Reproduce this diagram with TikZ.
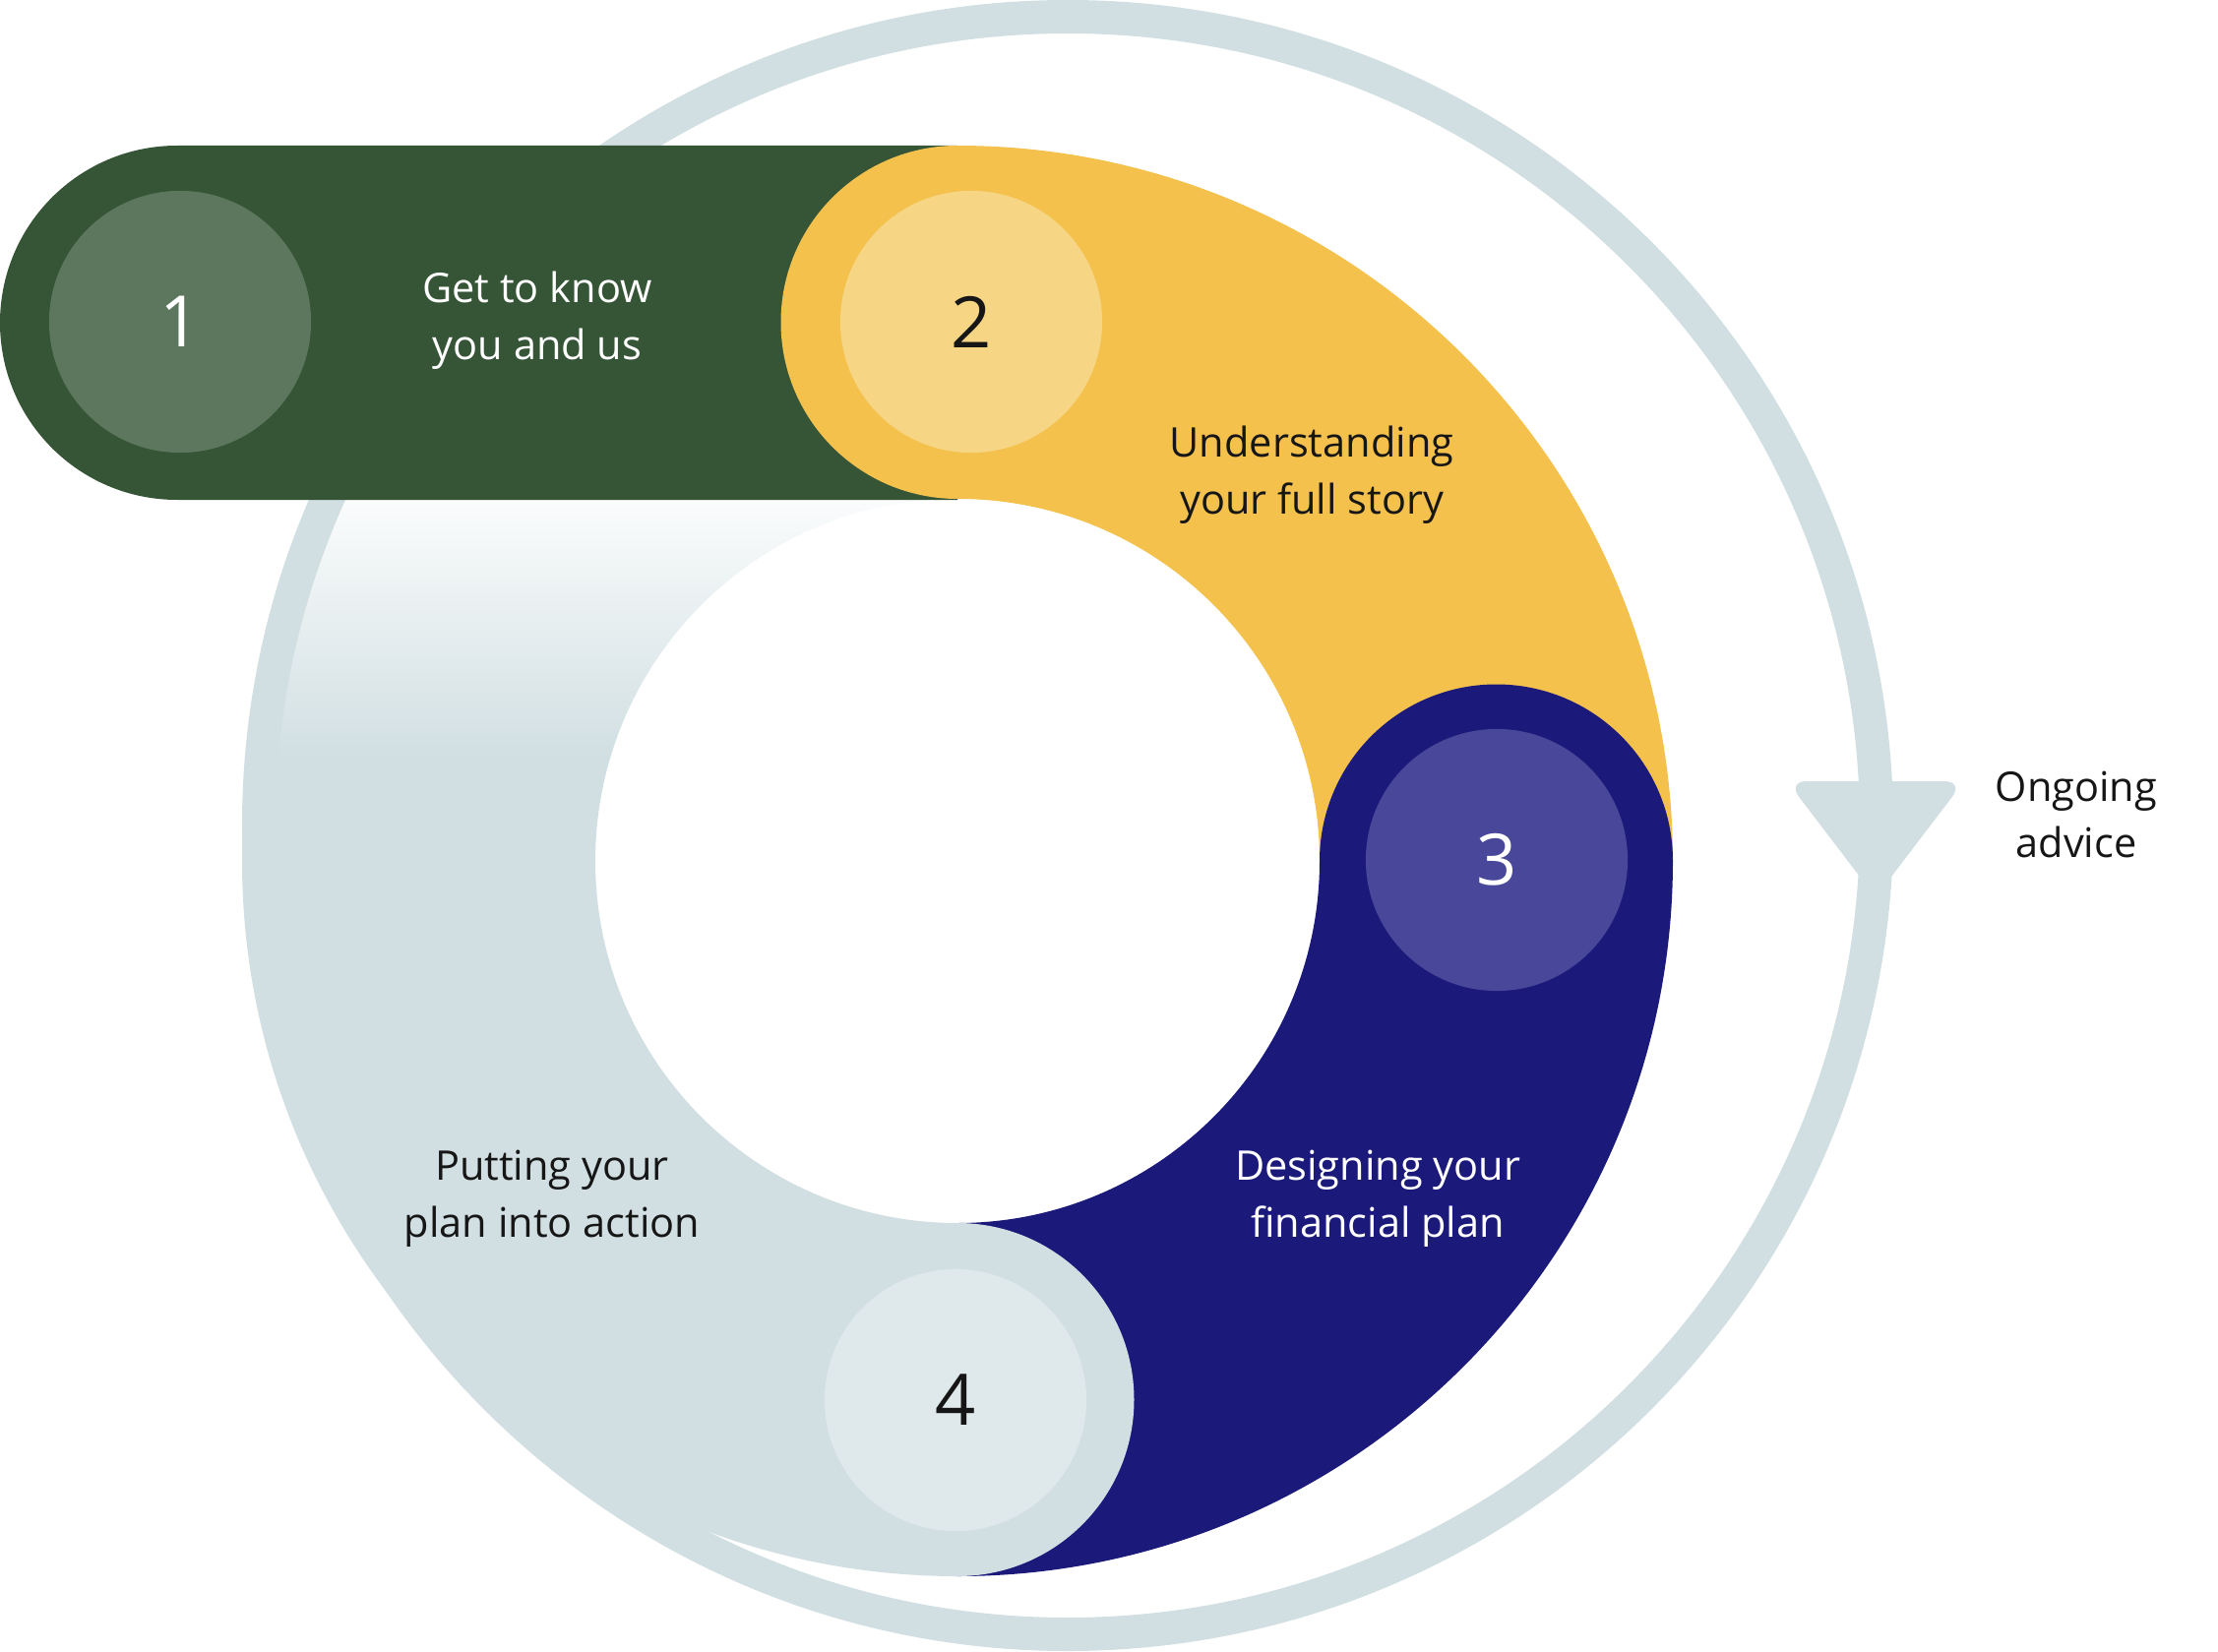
\documentclass[tikz,border=0pt]{standalone}
\usepackage{fontspec}
\setmainfont{Open Sans}
\definecolor{greenc}{HTML}{355536}
\definecolor{green2}{HTML}{5C775E}
\definecolor{yellowc}{HTML}{F4C14D}
\definecolor{yellow2}{HTML}{F6D584}
\definecolor{navyc}{HTML}{1B1A7A}
\definecolor{navy2}{HTML}{484799}
\definecolor{greyc}{HTML}{D1DFE2}
\definecolor{grey2}{HTML}{DFE8EA}
\definecolor{inkc}{HTML}{161616}
\begin{document}
\begin{tikzpicture}[x=0.01cm,y=0.01cm,
  lbl/.style={align=center, font=\fontsize{11.8}{16.4}\selectfont, inner sep=0pt},
  numc/.style={circle, inner sep=0pt, minimum size=2.66cm, font=\fontsize{20.5}{24}\selectfont},
  ringline/.style={draw=greyc, line width=0.34cm}
]
\useasboundingbox (0,0) rectangle (2254,-1679);
% step 4 segment with fade
\begin{scope}
\clip (973,-148) arc[start angle=90,end angle=270,radius=727] -- (973,-1243) arc[start angle=270,end angle=90,radius=368] -- cycle;
\fill[greyc] (0,-770) rectangle (1000,-1700);
\shade[top color=white,middle color=greyc!55!white,bottom color=greyc] (0,-480) rectangle (1000,-771);
\end{scope}
% outer ring and arrow
\path[ringline] (1085,-839) circle[radius=822];
\coordinate (ah1) at (1816,-794);
\coordinate (ah2) at (1996,-794);
\coordinate (ah3) at (1906,-912);
\fill[greyc, rounded corners=0.2cm] (ah1) -- (ah2) -- (ah3) -- cycle;
% step 1 capsule
\fill[greenc] (973,-148) -- (180,-148) arc[start angle=90,end angle=270,radius=180] -- (973,-508) -- cycle;
% step 2 segment
\fill[yellowc] (973,-148) arc[start angle=90,end angle=0,radius=727] -- (1341,-875) arc[start angle=0,end angle=90,radius=368] arc[start angle=-90,end angle=-270,radius=179.5] -- cycle;
% step 3 segment
\fill[navyc] (1700,-875) arc[start angle=0,end angle=-90,radius=727] -- (973,-1243) arc[start angle=-90,end angle=0,radius=368] arc[start angle=180,end angle=0,radius=179.5] -- cycle;
% step 4 cap
\fill[greyc] (973,-1422.5) circle[radius=179.5];
% number circles
\node[numc, fill=green2, text=white] (n1) at (183,-327) {1};
\node[numc, fill=yellow2, text=inkc] (n2) at (987,-327) {2};
\node[numc, fill=navy2, text=white] (n3) at (1521,-874) {3};
\node[numc, fill=grey2, text=inkc] (n4) at (971,-1423) {4};
% labels
\node[lbl, text=white] (t1) at (546,-326) {Get to know\\you and us};
\node[lbl, text=inkc] (t2) at (1333,-483) {Understanding\\your full story};
\node[lbl, text=white] (t3) at (1400,-1218) {Designing your\\financial plan};
\node[lbl, text=inkc] (t4) at (561,-1218) {Putting your\\plan into action};
\node[lbl, text=inkc] (t5) at (2110,-828) {Ongoing\\advice};
\end{tikzpicture}
\end{document}
